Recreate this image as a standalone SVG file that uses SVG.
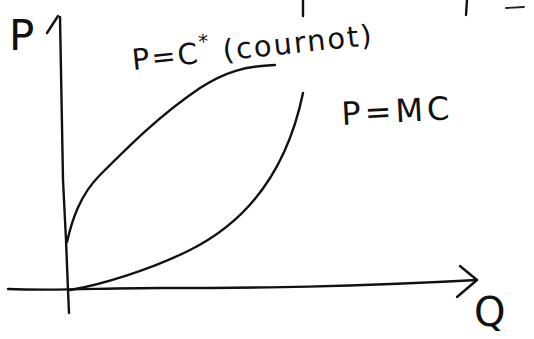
<svg xmlns="http://www.w3.org/2000/svg" width="534" height="339" viewBox="0 0 534 339">
<style>
.ln{fill:none;stroke:#111;stroke-width:2.4;stroke-linecap:round;stroke-linejoin:round}
.thin{fill:none;stroke:#222;stroke-width:1.8;stroke-linecap:round}
.t{font-family:"DejaVu Sans","Liberation Sans",sans-serif;fill:#111;font-weight:normal}
</style>
<rect width="534" height="339" fill="#fff"/>
<g id="marks">
<path class="ln" d="M303 0 L303 16"/>
<path class="ln" d="M467 0 L466 15"/>
<path class="thin" d="M506 8 L524 7"/>
</g>
<g id="axes">
<path class="ln" d="M69 313 L68 290 L66 240 L63 180 L60 17"/>
<path class="ln" d="M47 33 L58 16"/>
<path class="ln" d="M8 289 C60 291 100 288 160 288 C260 288 350 287 477 280"/>
<path class="ln" d="M460 266 L477 280 L457 297"/>
</g>
<g id="curves">
<path class="ln" d="M67 242 C72 220 80 195 100 175 C130 145 160 115 200 88 C225 72 245 66 275 65"/>
<path class="ln" d="M70 290 C100 285 150 270 190 250 C240 225 285 180 303 93"/>
</g>
<g id="labels">
<text class="t" x="9" y="50" font-size="42">P</text>
<text class="t" x="474" y="326" font-size="40">Q</text>
<text class="t" x="133" y="70" font-size="29" letter-spacing="2" transform="rotate(-6 133 70)">P=C<tspan font-size="20" dy="-14">*</tspan><tspan dy="14"> (cournot)</tspan></text>
<text class="t" x="342" y="125" font-size="32" letter-spacing="4" transform="rotate(-3 342 125)">P=MC</text>
</g>
</svg>
